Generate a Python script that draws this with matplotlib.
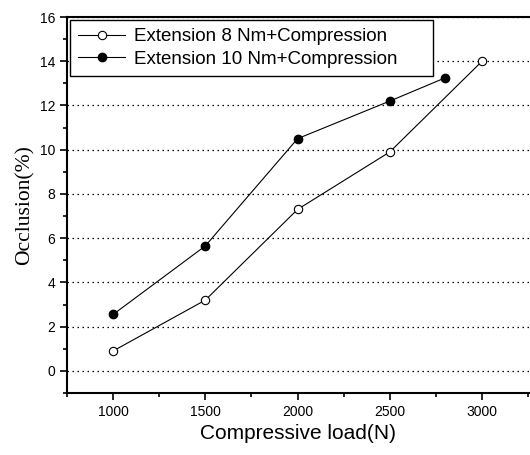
import numpy as np
import matplotlib.pyplot as plt
from matplotlib.ticker import MultipleLocator

loads_8 = [1000, 1500, 2000, 2500, 3000]
occl_8 = [0.9, 3.2, 7.3, 9.9, 14.0]
loads_10 = [1000, 1500, 2000, 2500, 2800]
occl_10 = [2.55, 5.65, 10.5, 12.2, 13.25]

plt.rcParams['font.family'] = ['Liberation Sans', 'DejaVu Sans']

fig = plt.figure(figsize=(5.3, 4.55), dpi=100)
ax = fig.add_axes([0.1264, 0.1363, 0.8736, 0.8263])

ax.plot(loads_8, occl_8, 'k-', lw=0.8, marker='o', ms=6, mfc='white', mec='black', mew=0.8,
        label='Extension 8 Nm+Compression')
ax.plot(loads_10, occl_10, 'k-', lw=0.8, marker='o', ms=6, mfc='black', mec='black',
        label='Extension 10 Nm+Compression')

ax.set_xlim(750, 3260)
ax.set_ylim(-1, 16)
ax.xaxis.set_major_locator(MultipleLocator(500))
ax.xaxis.set_minor_locator(MultipleLocator(250))
ax.yaxis.set_major_locator(MultipleLocator(2))
ax.yaxis.set_minor_locator(MultipleLocator(1))
ax.grid(axis='y', which='major', ls=(0, (1.2, 2.8)), color='black', lw=0.9)
ax.set_axisbelow(True)

ax.spines['right'].set_visible(False)
for s in ['left', 'bottom', 'top']:
    ax.spines[s].set_linewidth(1.5)
ax.tick_params(which='both', direction='out', labelsize=10, width=1.2)
ax.tick_params(which='major', length=5)
ax.tick_params(which='minor', length=3)

ax.set_xlabel('Compressive load(N)', fontsize=15)
ax.set_ylabel('Occlusion(%)', fontsize=15.5, family=['Liberation Serif'])

leg = ax.legend(loc='upper left', bbox_to_anchor=(0.006, 0.993, 0.784, 0), mode='expand',
                fontsize=13.5, frameon=True, fancybox=False,
                edgecolor='black', framealpha=1, borderaxespad=0.0,
                handlelength=2.5, handletextpad=0.5, labelspacing=0.3, borderpad=0.45)
leg.get_frame().set_linewidth(1.0)

fig.savefig('out.png', dpi=100)
